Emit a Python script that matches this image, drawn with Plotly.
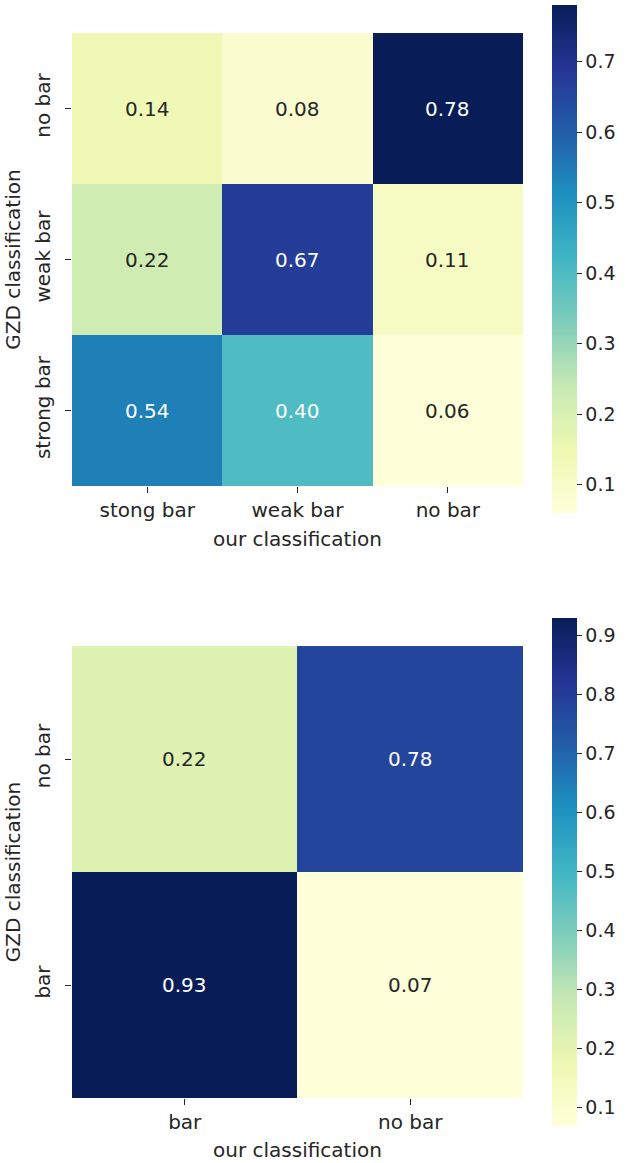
import plotly.graph_objects as go
from plotly.subplots import make_subplots

# data
top_x = ["stong bar", "weak bar", "no bar"]
top_y = ["strong bar", "weak bar", "no bar"]
top_z = [[0.54, 0.40, 0.06],
         [0.22, 0.67, 0.11],
         [0.14, 0.08, 0.78]]

bot_x = ["bar", "no bar"]
bot_y = ["bar", "no bar"]
bot_z = [[0.93, 0.07],
         [0.22, 0.78]]

top_ticks = [0.1, 0.2, 0.3, 0.4, 0.5, 0.6, 0.7]
bot_ticks = [0.1, 0.2, 0.3, 0.4, 0.5, 0.6, 0.7, 0.8, 0.9]

font = "DejaVu Sans"
dark = "#262626"
fsize = 20


def cbar(yc, ticks):
    return dict(x=0.8818, xanchor="left", xpad=0, y=yc, ypad=0, len=0.4368,
                lenmode="fraction", thickness=25, outlinewidth=0,
                tickvals=ticks, ticks="outside", ticklen=5, tickcolor=dark,
                tickfont=dict(size=19, color=dark, family=font))


fig = make_subplots(rows=2, cols=1)

fig.add_trace(go.Heatmap(x=top_x, y=top_y, z=top_z, colorscale="YlGnBu",
                         showscale=True, colorbar=cbar(0.7773, top_ticks)),
              row=1, col=1)
fig.add_trace(go.Heatmap(x=bot_x, y=bot_y, z=bot_z, colorscale="YlGnBu",
                         showscale=True, colorbar=cbar(0.2506, bot_ticks)),
              row=2, col=1)


def add_labels(xs, ys, zs, xref, yref):
    lo = min(min(r) for r in zs)
    hi = max(max(r) for r in zs)
    for i, y in enumerate(ys):
        for j, x in enumerate(xs):
            v = zs[i][j]
            col = "white" if (v - lo) / (hi - lo) > 0.35 else dark
            fig.add_annotation(x=x, y=y, xref=xref, yref=yref, text=f"{v:.2f}",
                               showarrow=False, font=dict(size=fsize, color=col, family=font))


add_labels(top_x, top_y, top_z, "x", "y")
add_labels(bot_x, bot_y, bot_z, "x2", "y2")

axis_common = dict(ticks="outside", ticklen=6, tickcolor=dark, showgrid=False, zeroline=False,
                   showline=False, automargin=False,
                   tickfont=dict(size=fsize, color=dark, family=font))

fig.update_xaxes(domain=[0.115, 0.8355], **axis_common,
                 title=dict(text="our classification", font=dict(size=fsize, color=dark, family=font), standoff=10))
fig.update_yaxes(tickangle=-90, ticklabelstandoff=7, **axis_common,
                 title=dict(text="GZD classification", font=dict(size=fsize, color=dark, family=font), standoff=4))
fig.update_yaxes(domain=[0.5821, 0.9716], row=1, col=1)
fig.update_yaxes(domain=[0.0559, 0.4445], row=2, col=1)

fig.update_layout(width=626, height=1163, margin=dict(l=0, r=0, t=0, b=0, autoexpand=False),
                  plot_bgcolor="white", paper_bgcolor="white",
                  font=dict(family=font, color=dark))

# the page's default body margin would shift the figure by 8px
fig.write_html("out.html", config={"displayModeBar": False},
               post_script="document.body.style.margin = '0';")
